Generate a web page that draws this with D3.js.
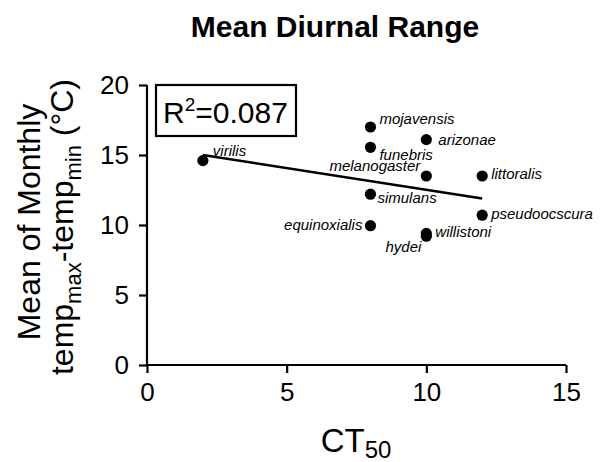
<!DOCTYPE html>
<html>
<head>
<meta charset="utf-8">
<script src="https://cdn.jsdelivr.net/npm/d3@7"></script>
<style>
  html, body { margin: 0; padding: 0; background: #fff; }
  svg { display: block; font-family: "Liberation Sans", Arial, sans-serif; }
</style>
</head>
<body>
<svg id="chart" width="605" height="462"></svg>
<script>
// ---- data ----
const species = ["virilis","mojavensis","funebris","arizonae","melanogaster","littoralis","simulans","pseudoocscura","equinoxialis","willistoni","hydei"];
const ct50    = [2, 8, 8, 10, 10, 12, 8, 12, 8, 10, 10];
const diurnal = [14.6, 17.0, 15.55, 16.1, 13.5, 13.5, 12.2, 10.7, 9.95, 9.4, 9.2];
const fitX = [2, 12];
const fitY = [15.0, 11.9];
const xTicks = [0, 5, 10, 15];
const yTicks = [0, 5, 10, 15, 20];
const r2Text = "0.087";

// ---- label placement (style) ----
const labelPlace = {
  virilis:       {dx: 10, dy: -5, anchor: "start"},
  mojavensis:    {dx: 9,  dy: -3, anchor: "start"},
  funebris:      {dx: 9,  dy: 13, anchor: "start"},
  arizonae:      {dx: 12, dy: 5,  anchor: "start"},
  melanogaster:  {dx: -6, dy: -5, anchor: "end"},
  littoralis:    {dx: 9,  dy: 3,  anchor: "start"},
  simulans:      {dx: 7,  dy: 9,  anchor: "start"},
  pseudoocscura: {dx: 9,  dy: 4,  anchor: "start"},
  equinoxialis:  {dx: -8, dy: 4,  anchor: "end"},
  willistoni:    {dx: 9,  dy: 4,  anchor: "start"},
  hydei:         {dx: -5, dy: 16, anchor: "end"}
};

const svg = d3.select("#chart");
const x = d3.scaleLinear().domain([0, 15]).range([147, 566]);
const y = d3.scaleLinear().domain([0, 20]).range([365, 85]);

// Title
svg.append("text").attr("x", 335).attr("y", 37).attr("text-anchor", "middle")
  .attr("font-size", 30).attr("font-weight", "bold").text("Mean Diurnal Range");

// Axes
const xAxis = svg.append("g").attr("transform", `translate(0,${y(0)})`)
  .call(d3.axisBottom(x).tickValues(xTicks).tickSize(8).tickPadding(10).tickFormat(d3.format("d")));
const yAxis = svg.append("g").attr("transform", `translate(${x(0)},0)`)
  .call(d3.axisLeft(y).tickValues(yTicks).tickSize(8).tickPadding(10).tickFormat(d3.format("d")));
[xAxis, yAxis].forEach(g => {
  g.select(".domain").attr("stroke", "#000").attr("stroke-width", 2.2);
  g.selectAll(".tick line").attr("stroke", "#000").attr("stroke-width", 2.2);
  g.selectAll(".tick text").attr("font-size", 26).attr("fill", "#000")
    .attr("font-family", "Liberation Sans, Arial, sans-serif");
});
// domains without outer end ticks
xAxis.select(".domain").attr("d", `M${x(0)},0H${x(15)}`);
yAxis.select(".domain").attr("d", `M0,${y(0)}V${y(20)}`);

// Axis titles
const xt = svg.append("text").attr("x", 356).attr("y", 452).attr("text-anchor", "middle")
  .attr("font-size", 33);
xt.append("tspan").text("CT");
xt.append("tspan").attr("font-size", 24).attr("dy", 6).text("50");

const yl = svg.append("g").attr("transform", "translate(40,222) rotate(-90)");
yl.append("text").attr("x", 0).attr("y", 0).attr("text-anchor", "middle")
  .attr("font-size", 32).text("Mean of Monthly");
const l2 = yl.append("text").attr("x", -5).attr("y", 33).attr("text-anchor", "middle")
  .attr("font-size", 32);
l2.append("tspan").text("temp");
l2.append("tspan").attr("font-size", 22).attr("dy", 8).text("max");
l2.append("tspan").attr("dy", -8).text("-temp");
l2.append("tspan").attr("font-size", 22).attr("dy", 8).text("min");
l2.append("tspan").attr("dy", -8).text(" (°C)");

// R2 box
svg.append("rect").attr("x", 156).attr("y", 85).attr("width", 140).attr("height", 51)
  .attr("fill", "none").attr("stroke", "#000").attr("stroke-width", 2.2);
const rt = svg.append("text").attr("x", 163).attr("y", 123).attr("font-size", 30);
rt.append("tspan").text("R");
rt.append("tspan").attr("font-size", 19).attr("dy", -12).text("2");
rt.append("tspan").attr("dy", 12).text("=" + r2Text);

// Regression line
svg.append("line")
  .attr("x1", x(fitX[0])).attr("y1", y(fitY[0]))
  .attr("x2", x(fitX[1])).attr("y2", y(fitY[1]))
  .attr("stroke", "#000").attr("stroke-width", 2.5);

// Points
const pts = species.map((s, i) => ({s, cx: x(ct50[i]), cy: y(diurnal[i])}));
svg.append("g").selectAll("circle").data(pts).join("circle")
  .attr("cx", d => d.cx).attr("cy", d => d.cy).attr("r", 5.6).attr("fill", "#000");

svg.append("g").selectAll("text").data(pts).join("text")
  .attr("x", d => d.cx + labelPlace[d.s].dx)
  .attr("y", d => d.cy + labelPlace[d.s].dy)
  .attr("text-anchor", d => labelPlace[d.s].anchor)
  .attr("font-size", 15).attr("font-style", "italic")
  .text(d => d.s);
</script>
</body>
</html>
